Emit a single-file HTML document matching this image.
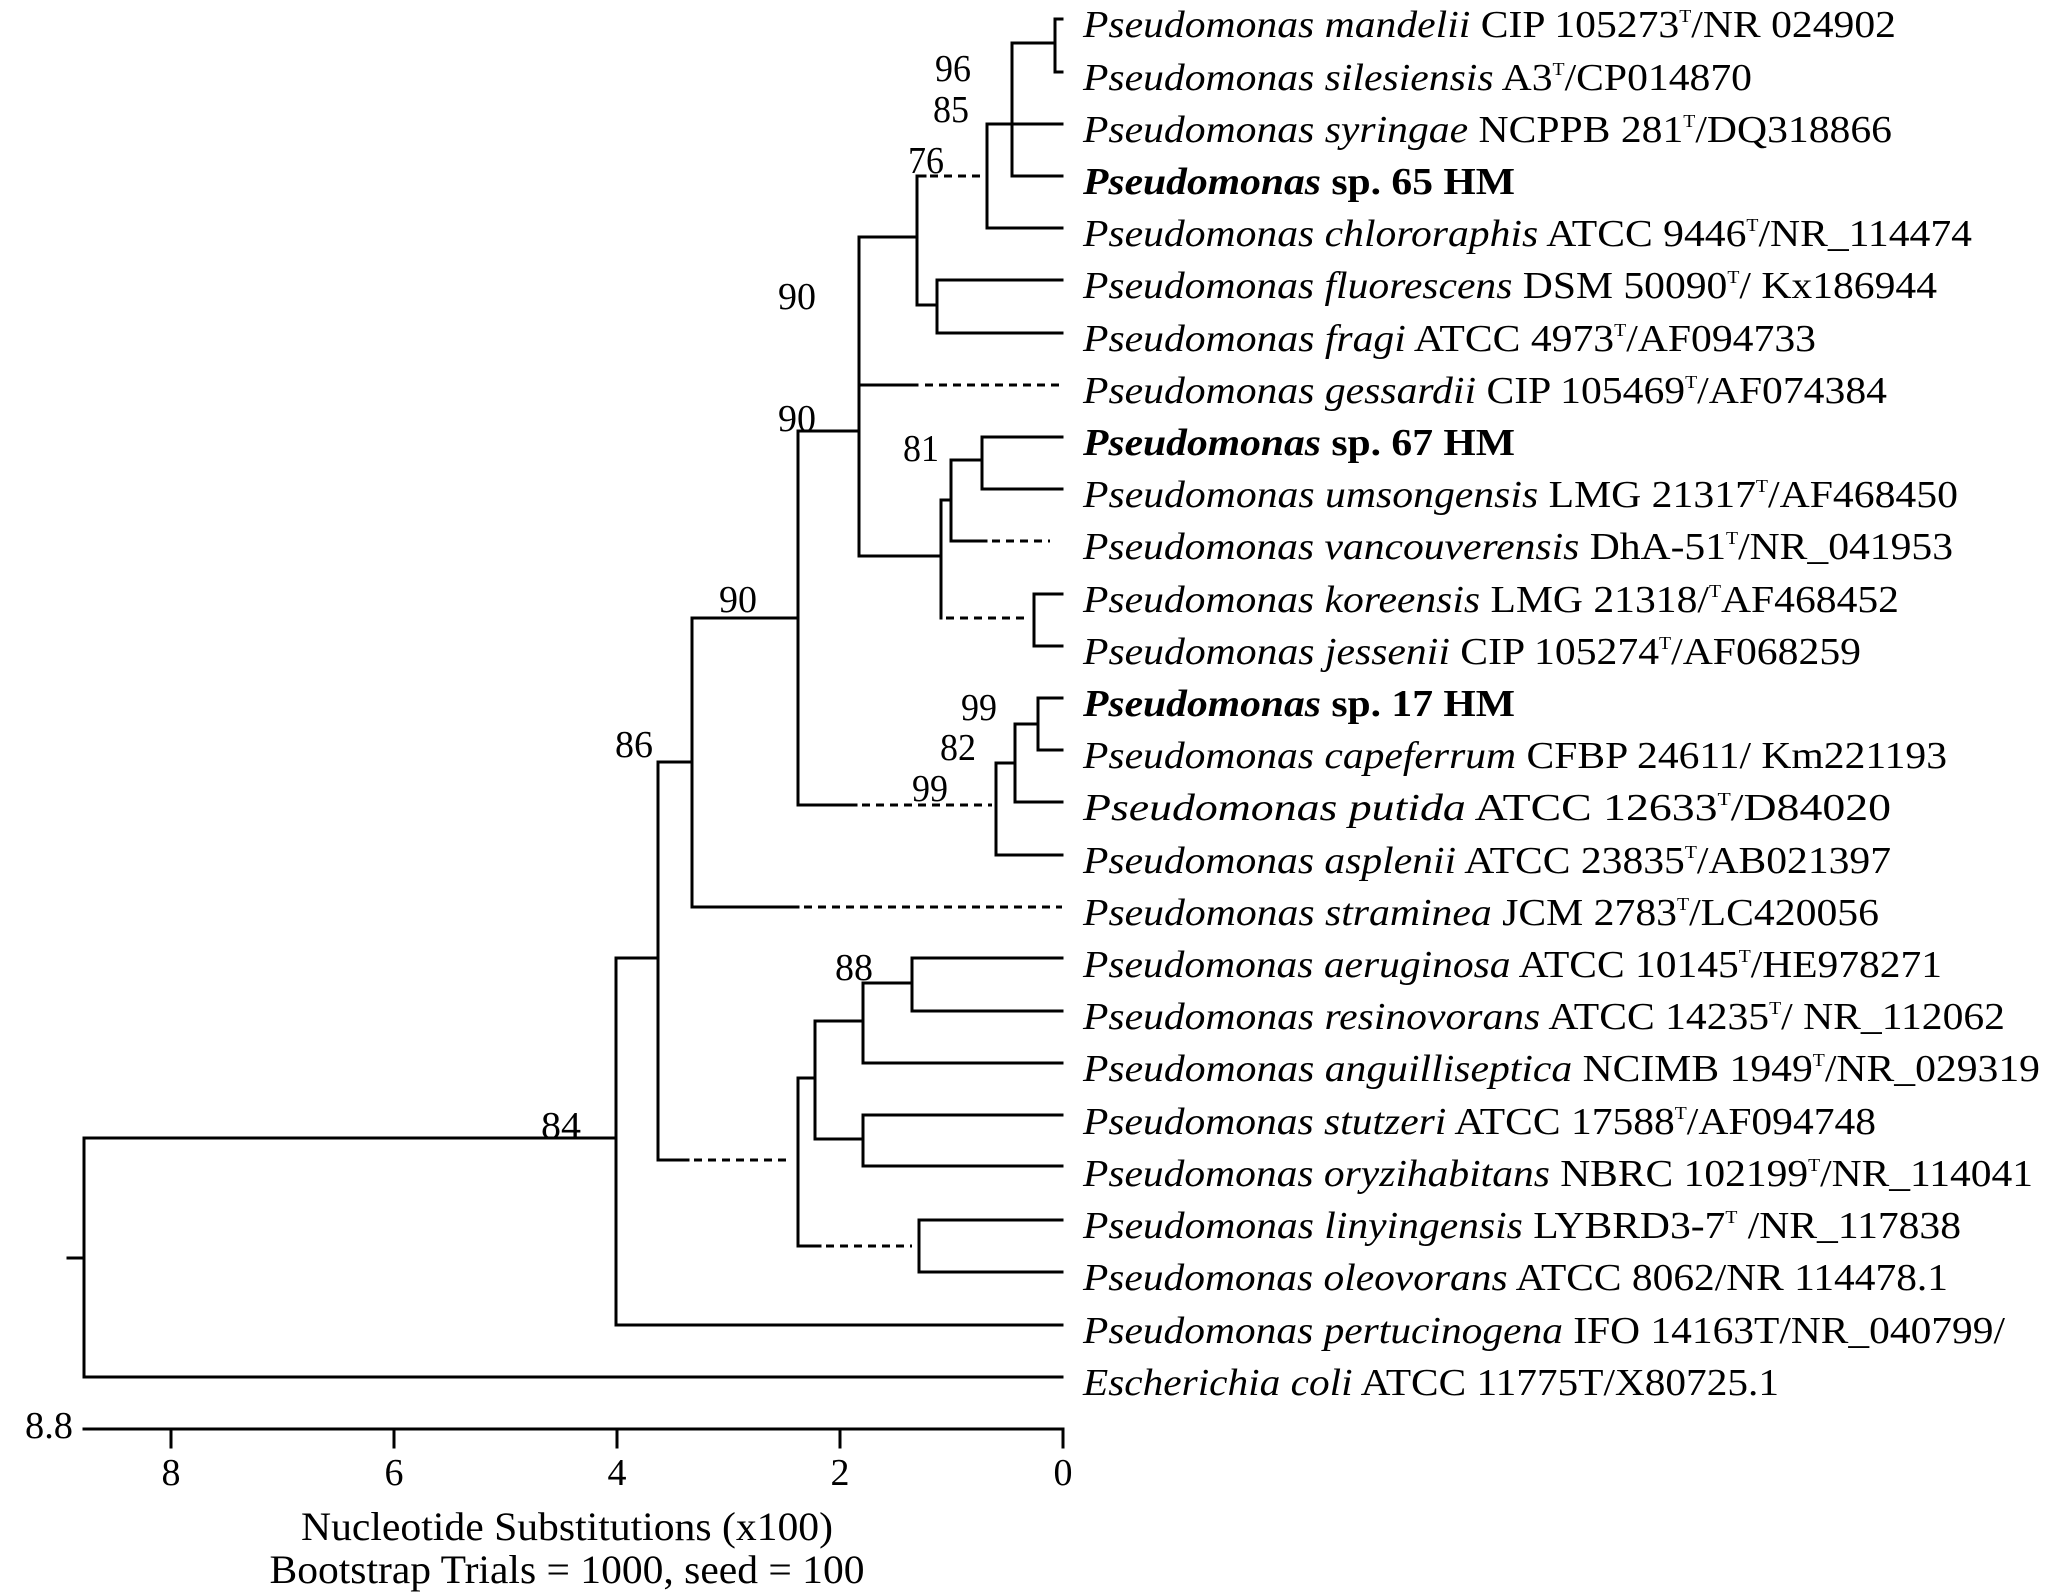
<!DOCTYPE html>
<html><head><meta charset="utf-8"><style>
html,body{margin:0;padding:0;background:#fff}
svg{display:block}
text{font-family:"Liberation Serif",serif;fill:#000}
.lf{font-size:38px}
.n{font-size:38px}
</style></head><body>
<svg width="2067" height="1596" viewBox="0 0 2067 1596" xmlns="http://www.w3.org/2000/svg">
<g stroke="#000" stroke-width="3" fill="none" stroke-linecap="square">
<path d="M1055 19V72 M1055 19H1062 M1055 72H1062"/>
<path d="M1014 43H1055 M1012 43V176 M1012 124H1062 M1012 176H1062"/>
<path d="M987 124H1012 M987 124V228 M987 228H1062"/>
<path d="M917 176V305 M917 176H925"/>
<path d="M917 305H937 M937 280V333 M937 280H1062 M937 333H1062"/>
<path d="M859 237H917 M859 237V556 M859 385H917"/>
<path d="M859 556H941 M941 500V618 M941 500H951 M951 460V541 M951 460H982 M982 437V489 M982 437H1062 M982 489H1062 M951 541H986"/>
<path d="M1034 594V646 M1034 594H1062 M1034 646H1062"/>
<path d="M798 431H859 M798 431V805 M798 805H856"/>
<path d="M1038 698V750 M1038 698H1062 M1038 750H1062 M1015 724H1038 M1015 724V802 M1015 802H1062 M996 763H1015 M996 763V855 M996 855H1062"/>
<path d="M692 618H798 M692 618V907 M692 907H798"/>
<path d="M658 762H692 M658 762V1160 M658 1160H688"/>
<path d="M616 958H658 M616 958V1325 M616 1325H1062"/>
<path d="M84 1138H616 M84 1138V1377 M84 1377H1062 M68 1258H84"/>
<path d="M798 1078V1246 M798 1246H820 M798 1078H815 M815 1021V1139 M815 1021H863 M863 983V1063 M863 1063H1062 M863 983H912 M912 958V1011 M912 958H1062 M912 1011H1062"/>
<path d="M815 1139H863 M863 1115V1166 M863 1115H1062 M863 1166H1062"/>
<path d="M919 1220V1272 M919 1220H1062 M919 1272H1062"/>
<path d="M84 1429H1063 M171 1429V1447 M394 1429V1447 M617 1429V1447 M840 1429V1447 M1063 1429V1447"/>
</g>
<g stroke="#000" stroke-width="3" fill="none" stroke-dasharray="8,6">
<path d="M930 176H982"/>
<path d="M925 385H1060"/>
<path d="M992 541H1050"/>
<path d="M946 618H1030"/>
<path d="M862 805H992"/>
<path d="M804 907H1062"/>
<path d="M694 1160H789"/>
<path d="M826 1246H912"/>
</g>
<g class="n" text-anchor="middle">
<text x="953" y="81" textLength="36" lengthAdjust="spacingAndGlyphs">96</text>
<text x="951" y="122" textLength="36" lengthAdjust="spacingAndGlyphs">85</text>
<text x="926" y="173" textLength="36" lengthAdjust="spacingAndGlyphs">76</text>
<text x="797" y="309" textLength="38" lengthAdjust="spacingAndGlyphs">90</text>
<text x="797" y="431" textLength="38" lengthAdjust="spacingAndGlyphs">90</text>
<text x="921" y="461" textLength="36" lengthAdjust="spacingAndGlyphs">81</text>
<text x="738" y="612" textLength="38" lengthAdjust="spacingAndGlyphs">90</text>
<text x="979" y="720" textLength="36" lengthAdjust="spacingAndGlyphs">99</text>
<text x="958" y="760" textLength="36" lengthAdjust="spacingAndGlyphs">82</text>
<text x="930" y="801" textLength="36" lengthAdjust="spacingAndGlyphs">99</text>
<text x="634" y="757" textLength="38" lengthAdjust="spacingAndGlyphs">86</text>
<text x="854" y="980" textLength="38" lengthAdjust="spacingAndGlyphs">88</text>
<text x="561" y="1138" textLength="40" lengthAdjust="spacingAndGlyphs">84</text>
<text x="49" y="1438" textLength="48" lengthAdjust="spacingAndGlyphs">8.8</text>
<text x="171" y="1485">8</text>
<text x="394" y="1485">6</text>
<text x="617" y="1485">4</text>
<text x="840" y="1485">2</text>
<text x="1063" y="1485">0</text>
<text x="567" y="1540" font-size="40" textLength="532" lengthAdjust="spacingAndGlyphs">Nucleotide Substitutions (x100)</text>
<text x="567" y="1583" font-size="40" textLength="595" lengthAdjust="spacingAndGlyphs">Bootstrap Trials = 1000, seed = 100</text>
</g>
<g class="lf">
<text x="1083" y="37" textLength="813" lengthAdjust="spacingAndGlyphs"><tspan font-style="italic">Pseudomonas mandelii</tspan> CIP 105273<tspan font-size="18" dy="-15">T</tspan><tspan dy="15">/NR 024902</tspan></text>
<text x="1083" y="90" textLength="669" lengthAdjust="spacingAndGlyphs"><tspan font-style="italic">Pseudomonas silesiensis</tspan> A3<tspan font-size="18" dy="-15">T</tspan><tspan dy="15">/CP014870</tspan></text>
<text x="1083" y="142" textLength="809" lengthAdjust="spacingAndGlyphs"><tspan font-style="italic">Pseudomonas syringae</tspan> NCPPB 281<tspan font-size="18" dy="-15">T</tspan><tspan dy="15">/DQ318866</tspan></text>
<text x="1083" y="194" textLength="432" lengthAdjust="spacingAndGlyphs" font-weight="bold"><tspan font-style="italic">Pseudomonas</tspan> sp. 65 HM</text>
<text x="1083" y="246" textLength="889" lengthAdjust="spacingAndGlyphs"><tspan font-style="italic">Pseudomonas chlororaphis</tspan> ATCC 9446<tspan font-size="18" dy="-15">T</tspan><tspan dy="15">/NR_114474</tspan></text>
<text x="1083" y="298" textLength="854" lengthAdjust="spacingAndGlyphs"><tspan font-style="italic">Pseudomonas fluorescens</tspan> DSM 50090<tspan font-size="18" dy="-15">T</tspan><tspan dy="15">/ Kx186944</tspan></text>
<text x="1083" y="351" textLength="733" lengthAdjust="spacingAndGlyphs"><tspan font-style="italic">Pseudomonas fragi</tspan> ATCC 4973<tspan font-size="18" dy="-15">T</tspan><tspan dy="15">/AF094733</tspan></text>
<text x="1083" y="403" textLength="804" lengthAdjust="spacingAndGlyphs"><tspan font-style="italic">Pseudomonas gessardii</tspan> CIP 105469<tspan font-size="18" dy="-15">T</tspan><tspan dy="15">/AF074384</tspan></text>
<text x="1083" y="455" textLength="432" lengthAdjust="spacingAndGlyphs" font-weight="bold"><tspan font-style="italic">Pseudomonas</tspan> sp. 67 HM</text>
<text x="1083" y="507" textLength="875" lengthAdjust="spacingAndGlyphs"><tspan font-style="italic">Pseudomonas umsongensis</tspan> LMG 21317<tspan font-size="18" dy="-15">T</tspan><tspan dy="15">/AF468450</tspan></text>
<text x="1083" y="559" textLength="870" lengthAdjust="spacingAndGlyphs"><tspan font-style="italic">Pseudomonas vancouverensis</tspan> DhA-51<tspan font-size="18" dy="-15">T</tspan><tspan dy="15">/NR_041953</tspan></text>
<text x="1083" y="612" textLength="816" lengthAdjust="spacingAndGlyphs"><tspan font-style="italic">Pseudomonas koreensis</tspan> LMG 21318/<tspan font-size="18" dy="-15">T</tspan><tspan dy="15">AF468452</tspan></text>
<text x="1083" y="664" textLength="778" lengthAdjust="spacingAndGlyphs"><tspan font-style="italic">Pseudomonas jessenii</tspan> CIP 105274<tspan font-size="18" dy="-15">T</tspan><tspan dy="15">/AF068259</tspan></text>
<text x="1083" y="716" textLength="432" lengthAdjust="spacingAndGlyphs" font-weight="bold"><tspan font-style="italic">Pseudomonas</tspan> sp. 17 HM</text>
<text x="1083" y="768" textLength="864" lengthAdjust="spacingAndGlyphs"><tspan font-style="italic">Pseudomonas capeferrum</tspan> CFBP 24611/ Km221193</text>
<text x="1083" y="820" textLength="808" lengthAdjust="spacingAndGlyphs"><tspan font-style="italic">Pseudomonas putida</tspan> ATCC 12633<tspan font-size="18" dy="-15">T</tspan><tspan dy="15">/D84020</tspan></text>
<text x="1083" y="873" textLength="808" lengthAdjust="spacingAndGlyphs"><tspan font-style="italic">Pseudomonas asplenii</tspan> ATCC 23835<tspan font-size="18" dy="-15">T</tspan><tspan dy="15">/AB021397</tspan></text>
<text x="1083" y="925" textLength="796" lengthAdjust="spacingAndGlyphs"><tspan font-style="italic">Pseudomonas straminea</tspan> JCM 2783<tspan font-size="18" dy="-15">T</tspan><tspan dy="15">/LC420056</tspan></text>
<text x="1083" y="977" textLength="859" lengthAdjust="spacingAndGlyphs"><tspan font-style="italic">Pseudomonas aeruginosa</tspan> ATCC 10145<tspan font-size="18" dy="-15">T</tspan><tspan dy="15">/HE978271</tspan></text>
<text x="1083" y="1029" textLength="922" lengthAdjust="spacingAndGlyphs"><tspan font-style="italic">Pseudomonas resinovorans</tspan> ATCC 14235<tspan font-size="18" dy="-15">T</tspan><tspan dy="15">/ NR_112062</tspan></text>
<text x="1083" y="1081" textLength="957" lengthAdjust="spacingAndGlyphs"><tspan font-style="italic">Pseudomonas anguilliseptica</tspan> NCIMB 1949<tspan font-size="18" dy="-15">T</tspan><tspan dy="15">/NR_029319</tspan></text>
<text x="1083" y="1134" textLength="793" lengthAdjust="spacingAndGlyphs"><tspan font-style="italic">Pseudomonas stutzeri</tspan> ATCC 17588<tspan font-size="18" dy="-15">T</tspan><tspan dy="15">/AF094748</tspan></text>
<text x="1083" y="1186" textLength="950" lengthAdjust="spacingAndGlyphs"><tspan font-style="italic">Pseudomonas oryzihabitans</tspan> NBRC 102199<tspan font-size="18" dy="-15">T</tspan><tspan dy="15">/NR_114041</tspan></text>
<text x="1083" y="1238" textLength="878" lengthAdjust="spacingAndGlyphs"><tspan font-style="italic">Pseudomonas linyingensis</tspan> LYBRD3-7<tspan font-size="18" dy="-15">T</tspan><tspan dy="15"> /NR_117838</tspan></text>
<text x="1083" y="1290" textLength="865" lengthAdjust="spacingAndGlyphs"><tspan font-style="italic">Pseudomonas oleovorans</tspan> ATCC 8062/NR 114478.1</text>
<text x="1083" y="1343" textLength="922" lengthAdjust="spacingAndGlyphs"><tspan font-style="italic">Pseudomonas pertucinogena</tspan> IFO 14163T/NR_040799/</text>
<text x="1083" y="1395" textLength="696" lengthAdjust="spacingAndGlyphs"><tspan font-style="italic">Escherichia coli</tspan> ATCC 11775T/X80725.1</text>
</g>
</svg>
</body></html>
